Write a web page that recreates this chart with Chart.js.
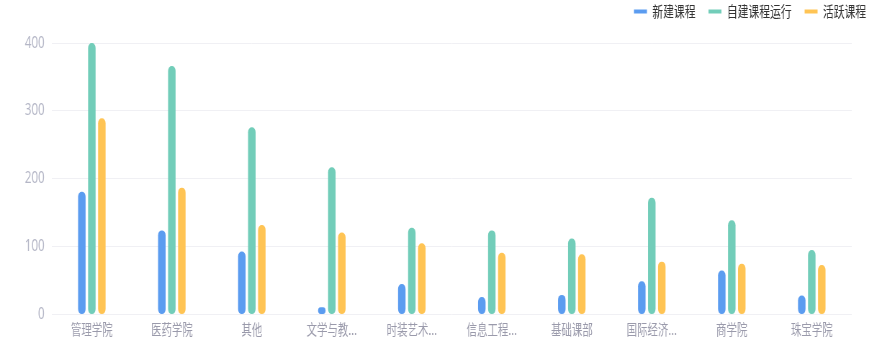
<!DOCTYPE html>
<html>
<head>
<meta charset="utf-8">
<script src="https://cdn.jsdelivr.net/npm/chart.js@4/dist/chart.umd.min.js"></script>
<style>
  html, body { margin: 0; padding: 0; background: #fff; overflow: hidden; }
  #wrap { width: 879px; height: 363px; overflow: hidden; }
  /* the source picture is squeezed sideways, so draw wide and scale down */
  #courseChart { display: block; width: 1221px; height: 363px; transform: scaleX(0.72); transform-origin: 0 0; }
</style>
</head>
<body>
<div id="wrap"><canvas id="courseChart" width="1221" height="363"></canvas></div>
<script>
const categories = ['管理学院', '医药学院', '其他', '文学与教...', '时装艺术...', '信息工程...', '基础课部', '国际经济...', '商学院', '珠宝学院'];
const newCourses = [181, 124, 93, 11, 45, 26, 29, 49, 65, 28];
const selfRun = [400, 366, 276, 217, 128, 124, 112, 172, 139, 95];
const activeCourses = [289, 187, 132, 121, 105, 91, 89, 78, 75, 73];
const yTicks = [0, 100, 200, 300, 400];

const ctx = document.getElementById('courseChart');

function bar(label, data, color) {
    return {
        label: label,
        data: data,
        backgroundColor: color,
        borderColor: color,
        borderRadius: 5,
        borderSkipped: false,
        barPercentage: 0.75,
        categoryPercentage: 0.375
    };
}

// keep the plot area below the legend
const legendSpace = {
    id: 'legendSpace',
    afterInit(chart) {
        const fit = chart.legend.fit;
        chart.legend.fit = function () {
            fit.call(this);
            this.height = 57;
        };
    }
};

new Chart(ctx, {
    type: 'bar',
    data: {
        labels: categories,
        datasets: [
            bar('新建课程', newCourses, '#5b9cf0'),
            bar('自建课程运行', selfRun, '#72cdb9'),
            bar('活跃课程', activeCourses, '#ffc454')
        ]
    },
    plugins: [legendSpace],
    options: {
        responsive: false,
        animation: false,
        layout: { padding: { left: 0, right: 0, top: -14, bottom: 19 } },
        plugins: {
            legend: {
                align: 'end',
                labels: {
                    boxWidth: 18,
                    boxHeight: 4,
                    padding: 18,
                    color: '#333',
                    font: { size: 15, family: 'Noto Sans CJK SC' }
                }
            },
            tooltip: { enabled: false }
        },
        scales: {
            x: {
                grid: { display: false, drawTicks: false },
                border: { display: false },
                ticks: {
                    color: '#9a9aab',
                    font: { size: 14.5, family: 'Noto Sans CJK SC' },
                    maxRotation: 0,
                    autoSkip: false,
                    padding: 6
                }
            },
            y: {
                min: 0,
                max: 400,
                afterBuildTicks: axis => { axis.ticks = yTicks.map(v => ({ value: v })); },
                afterFit: axis => { axis.width = 72; },
                grid: { color: '#f0f0f4', drawTicks: false },
                border: { display: false },
                ticks: {
                    color: '#b4b6c6',
                    font: { size: 16, family: 'Noto Sans' },
                    padding: 10
                }
            },
            yRight: {
                position: 'right',
                grid: { display: false },
                border: { display: false },
                ticks: { display: false },
                afterFit: axis => { axis.width = 38; }
            }
        }
    }
});
</script>
</body>
</html>
